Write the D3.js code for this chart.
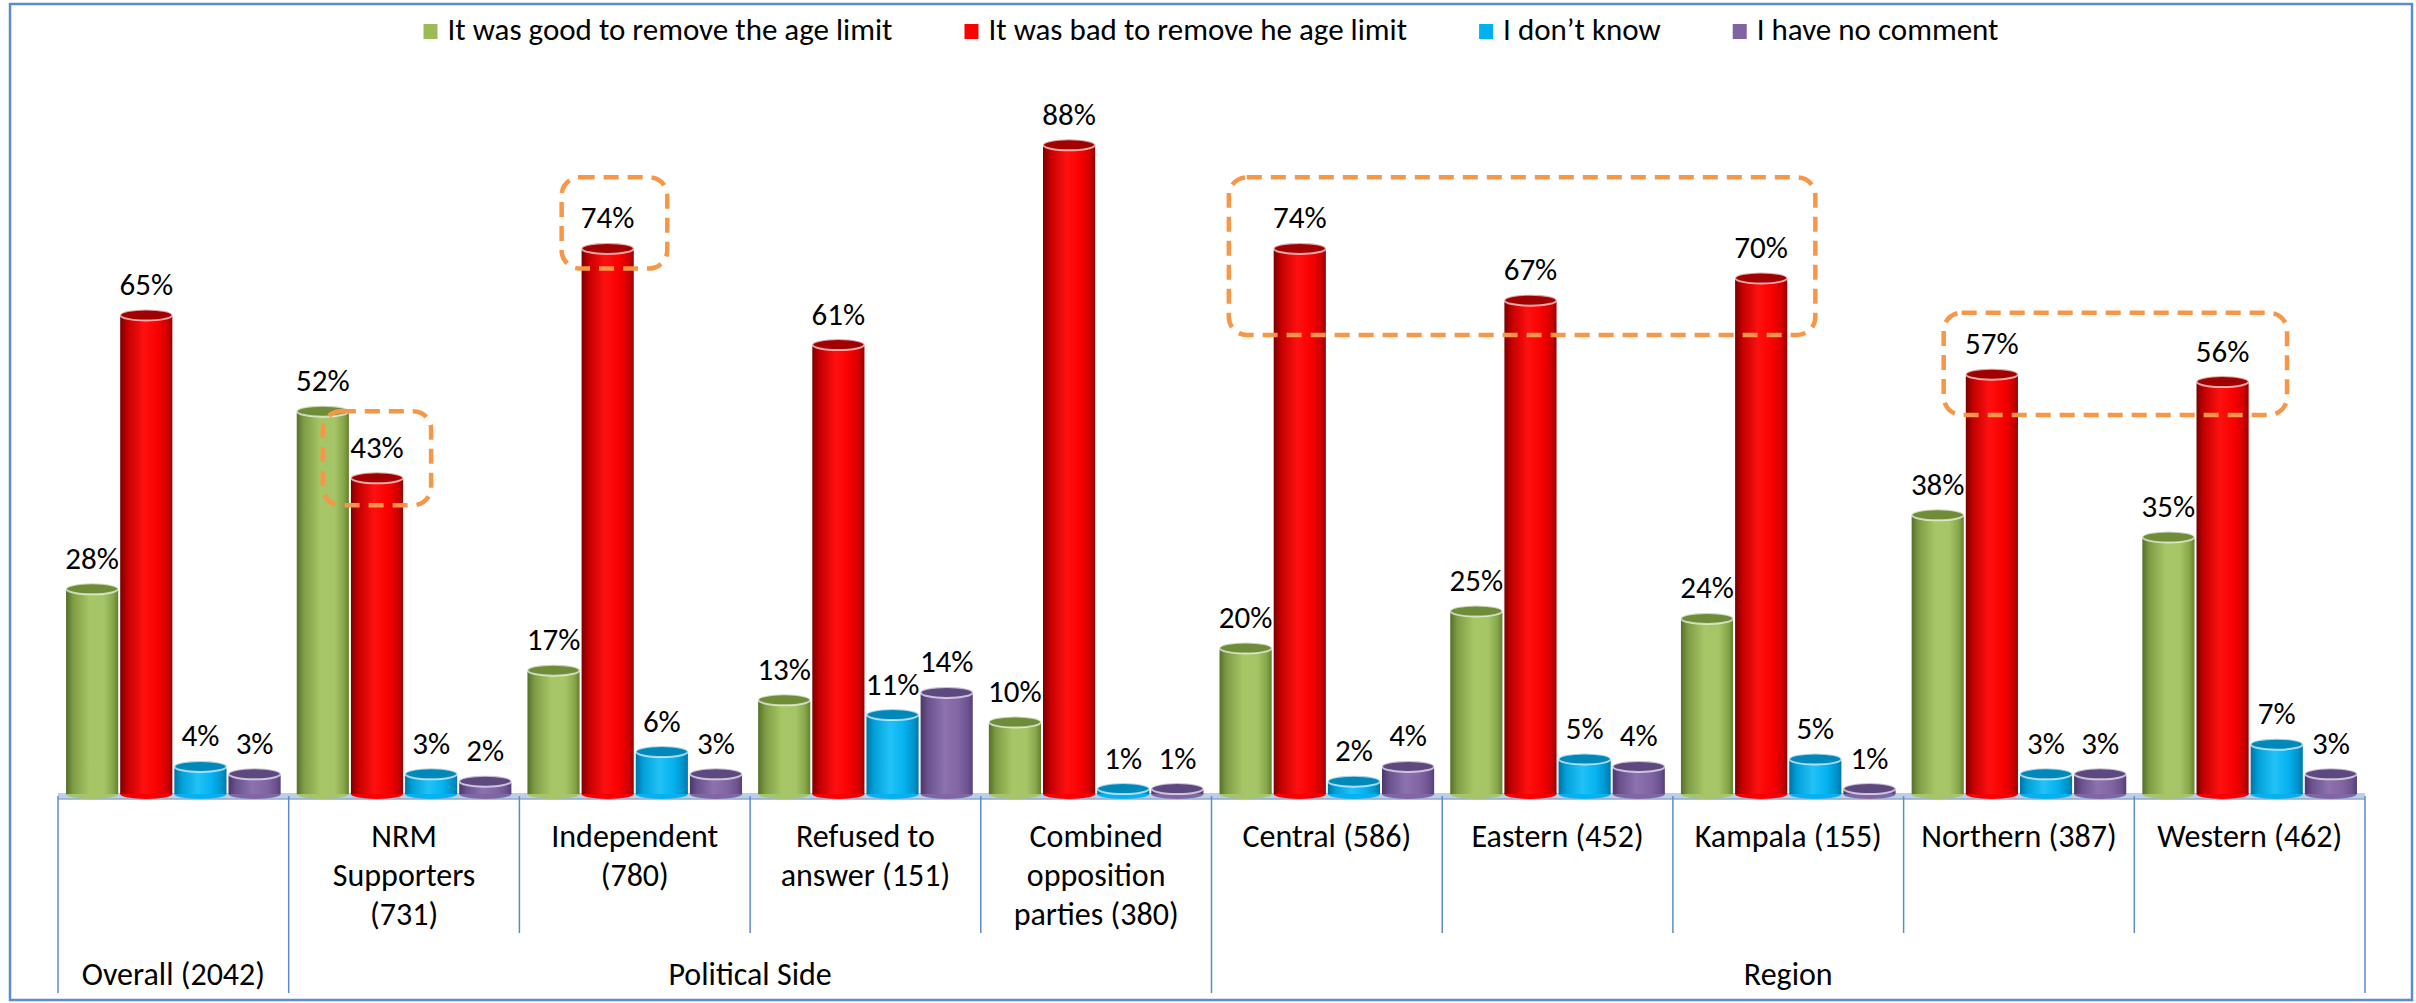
<!DOCTYPE html>
<html>
<head>
<meta charset="utf-8">
<script src="https://cdn.jsdelivr.net/npm/d3@7"></script>
<style>
  body { margin: 0; background: #fff; }
  svg text { font-family: Carlito, Calibri, Lato, sans-serif; fill: #000; }
</style>
</head>
<body>
<div id="chart"></div>
<script>
// survey: was removing the age limit good or bad, by political side and region
var categories = ["Overall (2042)", "NRM Supporters (731)", "Independent (780)", "Refused to answer (151)",
  "Combined opposition parties (380)", "Central (586)", "Eastern (452)", "Kampala (155)", "Northern (387)", "Western (462)"];
var categoryLines = [[], ["NRM", "Supporters", "(731)"], ["Independent", "(780)"], ["Refused to", "answer (151)"],
  ["Combined", "opposition", "parties (380)"], ["Central (586)"], ["Eastern (452)"], ["Kampala (155)"],
  ["Northern (387)"], ["Western (462)"]];
var groupNames = ["Overall (2042)", "Political Side", "Region"];
var groupSpans = [[0, 0], [1, 4], [5, 9]];

var series = ["It was good to remove the age limit", "It was bad to remove he age limit", "I don\u2019t know", "I have no comment"];
var goodValues = [28, 52, 17, 13, 10, 20, 25, 24, 38, 35];
var badValues = [65, 43, 74, 61, 88, 74, 67, 70, 57, 56];
var dontKnowValues = [4, 3, 6, 11, 1, 2, 5, 5, 3, 7];
var noCommentValues = [3, 2, 3, 14, 1, 4, 4, 1, 3, 3];
var seriesValues = [goodValues, badValues, dontKnowValues, noCommentValues];

// highlighted boxes: [first cat, series, fraction of bar] -> [last cat, series, fraction], top %, bottom %
var callouts = [
  [1, 0, 0.5, 1, 2, 0.5, 52, 39.3],
  [2, 0, 0.65, 2, 2, 0.6, 83.6, 71.3],
  [5, 0, 0.19, 7, 2, 0.5, 83.6, 62.3],
  [8, 0, 0.61, 9, 2, 0.69, 65.3, 51.5]
];

var colors = ["#9BBB59", "#FF0000", "#00B0F0", "#8064A2"];
var shades = [
  ["#55702a", "#7f9d45", "#a7c666", "#a6c568", "#87a74a", "#63802f"],
  ["#7a0000", "#c40000", "#ff1010", "#f80000", "#d20000", "#980000"],
  ["#00729f", "#009fd8", "#22c2f7", "#05b2f0", "#0094cc", "#0078aa"],
  ["#4a3766", "#6a528e", "#8c72ae", "#8266a4", "#6c5490", "#54407a"]
];
var capColors = ["#6f8c38", "#a00000", "#0088bb", "#5e4880"];

var W = 2416, H = 1003;
var labelFont = 31, axisFont = 32, legendFont = 31;

var svg = d3.select("#chart").append("svg").attr("width", W).attr("height", H);

var defs = svg.append("defs");
shades.forEach(function(s, i) {
  var g = defs.append("linearGradient").attr("id", "cyl" + i).attr("x1", "0%").attr("x2", "100%");
  var offs = [0, 0.14, 0.45, 0.72, 0.9, 1];
  s.forEach(function(c, j) { g.append("stop").attr("offset", offs[j]).attr("stop-color", c); });
});

// outer frame
svg.append("rect").attr("x", 10).attr("y", 4).attr("width", 2402).attr("height", 996)
  .attr("fill", "none").attr("stroke", "#5b8bd0").attr("stroke-width", 2.5);

var x0 = d3.scaleBand().domain(categories).range([58, 2365]).paddingInner(0).paddingOuter(0);
var x1 = d3.scaleBand().domain(series).range([0, x0.bandwidth()]).paddingInner(0).paddingOuter(0.13);
var y = d3.scaleLinear().domain([0, 100]).range([796, 56]);
var base = y(0);

// legend
var legend = svg.append("g");
var lx = 0;
series.forEach(function(s, i) {
  var item = legend.append("g").attr("transform", "translate(" + lx + ",0)");
  item.append("rect").attr("x", 0).attr("y", 24).attr("width", 14).attr("height", 15).attr("fill", colors[i]);
  var t = item.append("text").attr("x", 24).attr("y", 40).attr("font-size", legendFont).text(s);
  lx += 24 + t.node().getComputedTextLength() + 72;
});
lx -= 72;
legend.attr("transform", "translate(" + (1211 - lx / 2) + ",0)");

// floor
svg.append("rect").attr("x", 58).attr("y", base - 3).attr("width", 2365 - 58).attr("height", 6)
  .attr("fill", "#bccfe6");
svg.append("line").attr("x1", 58).attr("x2", 2365).attr("y1", base + 3).attr("y2", base + 3)
  .attr("stroke", "#8eaad0").attr("stroke-width", 1.5);

// bars
var groups = svg.append("g").selectAll("g").data(categories).enter().append("g")
  .attr("transform", function(c) { return "translate(" + x0(c) + ",0)"; });

var bw = x1.bandwidth();
groups.each(function(c, ci) {
  var g = d3.select(this);
  series.forEach(function(s, si) {
    var v = seriesValues[si][ci];
    var bx = x1(s) + 1, w = bw - 2;
    var top = y(v);
    g.append("ellipse").attr("cx", bx + w / 2).attr("cy", base - 2).attr("rx", w / 2).attr("ry", 5)
      .attr("fill", shades[si][3]);
    g.append("rect").attr("x", bx).attr("y", top).attr("width", w).attr("height", base - 2 - top)
      .attr("fill", "url(#cyl" + si + ")");
    g.append("ellipse").attr("cx", bx + w / 2).attr("cy", top).attr("rx", w / 2).attr("ry", 5.5)
      .attr("fill", capColors[si]).attr("stroke", "#ffffff").attr("stroke-opacity", 0.65).attr("stroke-width", 2);
    g.append("text").attr("x", bx + w / 2).attr("y", top - 20).attr("text-anchor", "middle")
      .attr("font-size", labelFont).text(v + "%");
  });
});

// category axis
var axis = svg.append("g").attr("transform", "translate(0," + base + ")")
  .call(d3.axisBottom(x0).tickSize(0).tickFormat(""));
axis.select(".domain").remove();
axis.selectAll(".tick text").each(function(c) {
  var lines = categoryLines[categories.indexOf(c)];
  var t = d3.select(this).attr("font-size", axisFont).attr("y", 0).attr("dy", null)
    .style("font-family", null).attr("fill", "#000");
  lines.forEach(function(l, i) {
    t.append("tspan").attr("x", 0).attr("y", 51 + i * 39).text(l);
  });
});
axis.attr("font-family", null).attr("font-size", null);

var divider = "#5b8bd0";
categories.forEach(function(c, i) {
  if (i === 0) return;
  var isGroupEdge = groupSpans.some(function(sp) { return sp[0] === i; });
  svg.append("line").attr("x1", x0(c)).attr("x2", x0(c)).attr("y1", base).attr("y2", isGroupEdge ? 993 : 933)
    .attr("stroke", divider).attr("stroke-width", 1.5);
});
[x0.range()[0], x0.range()[1]].forEach(function(xx) {
  svg.append("line").attr("x1", xx).attr("x2", xx).attr("y1", base).attr("y2", 993)
    .attr("stroke", divider).attr("stroke-width", 1.5);
});

groupNames.forEach(function(n, i) {
  var a = x0(categories[groupSpans[i][0]]);
  var b = x0(categories[groupSpans[i][1]]) + x0.bandwidth();
  svg.append("text").attr("x", (a + b) / 2).attr("y", 985).attr("text-anchor", "middle")
    .attr("font-size", axisFont).text(n);
});

// dashed highlight boxes
callouts.forEach(function(k) {
  var xa = x0(categories[k[0]]) + x1(series[k[1]]) + bw * k[2];
  var xb = x0(categories[k[3]]) + x1(series[k[4]]) + bw * k[5];
  svg.append("rect").attr("x", xa).attr("y", y(k[6])).attr("width", xb - xa).attr("height", y(k[7]) - y(k[6]))
    .attr("rx", 18).attr("fill", "none").attr("stroke", "#f79646").attr("stroke-width", 4.5)
    .attr("stroke-dasharray", "15,9");
});
</script>
</body>
</html>
